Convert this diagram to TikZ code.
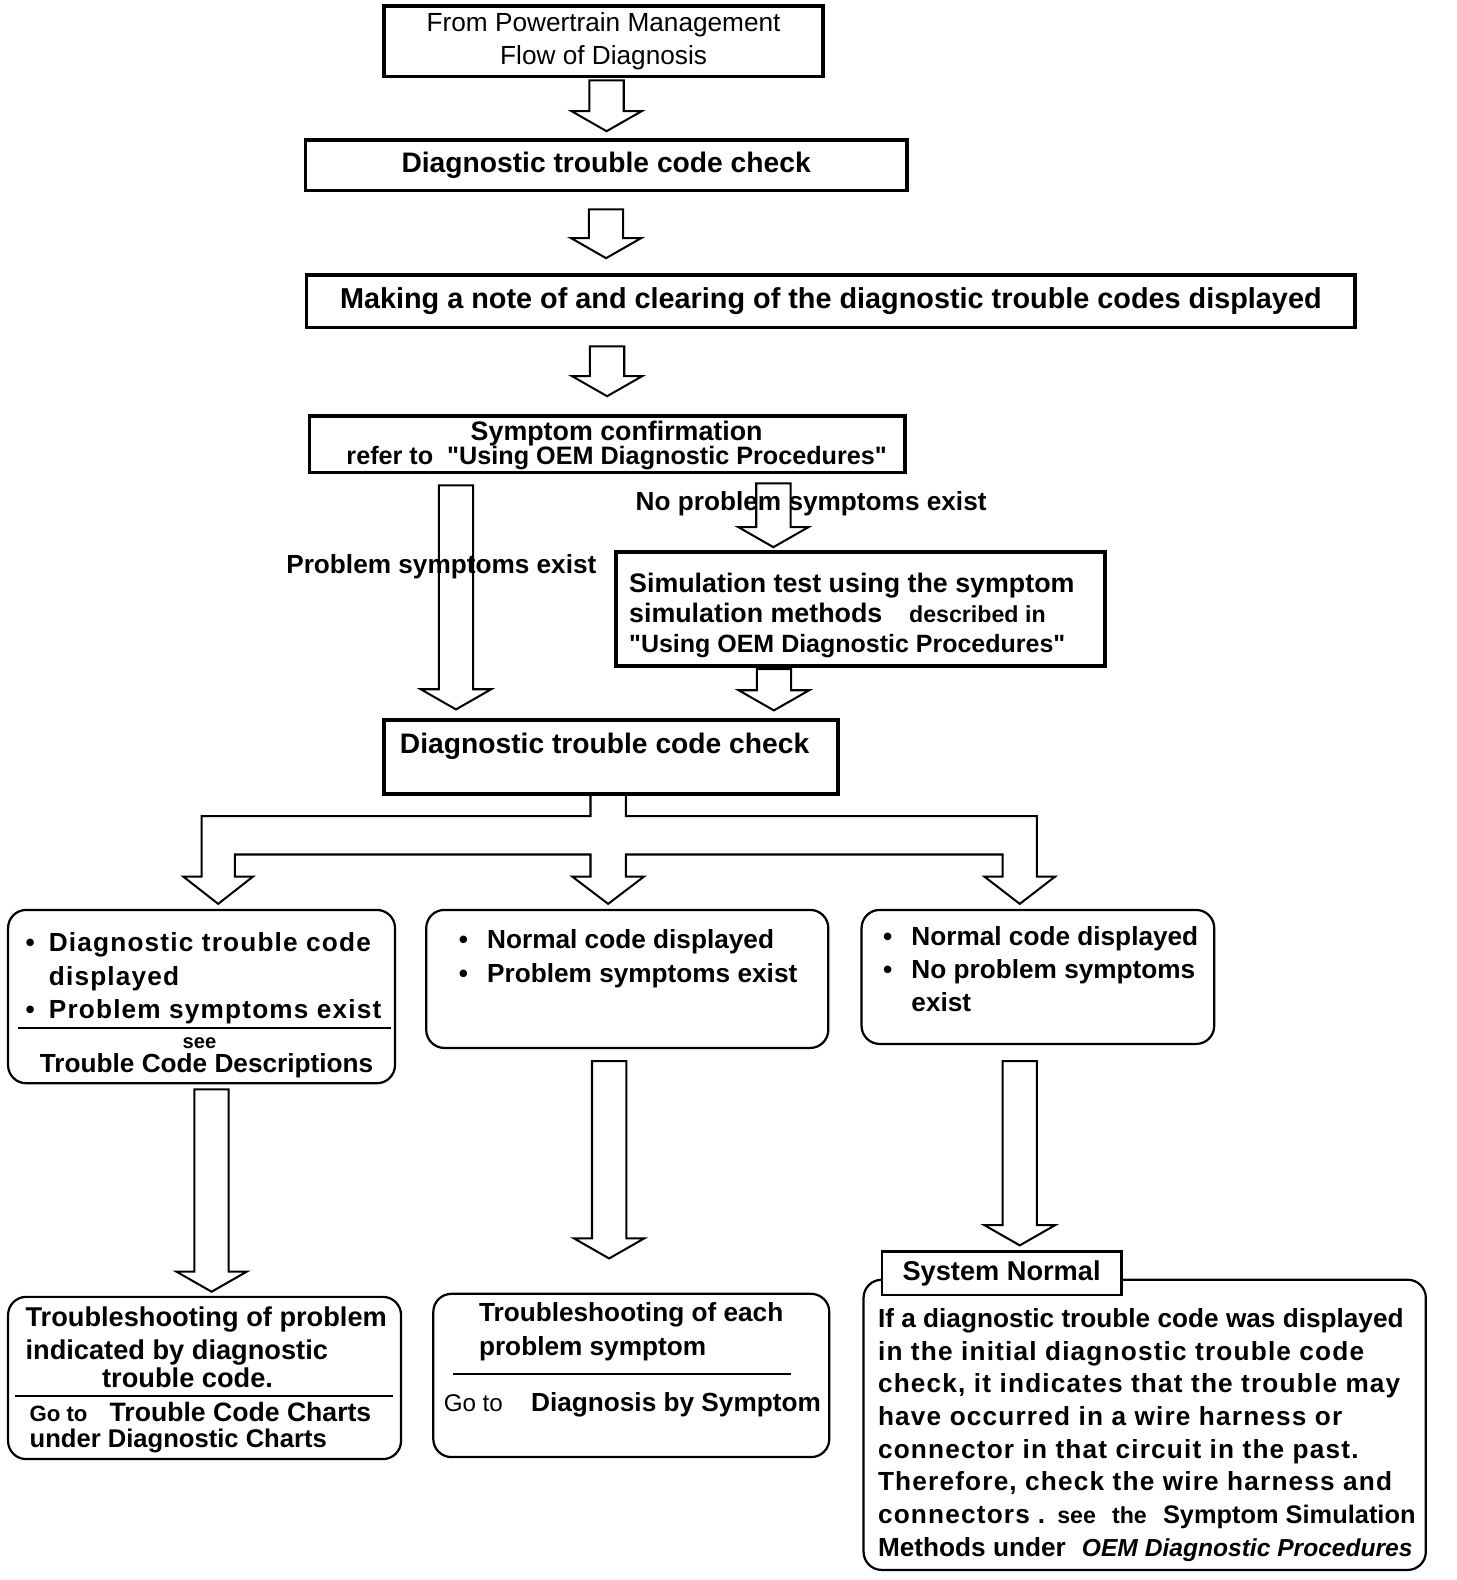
\documentclass[tikz,border=0pt]{standalone}
\usepackage{fontspec}
\setmainfont{Liberation Sans}
\usetikzlibrary{calc}

\newcommand{\fsz}[2]{\fontsize{#1}{#2}\selectfont}
\newcommand{\dq}{\textquotedbl}
\newcommand{\wide}{\addfontfeature{LetterSpace=4.5}}

% hollow block arrow, straight down from the x of #1 to the tip at the y of #2
\newcommand{\blockarrow}[2]{%
  \draw[hollow] let \p1=#1, \p2=#2 in
    (\x1-8.5pt,\y1) -- (\x1-8.5pt,\y2+10pt) -- (\x1-17.5pt,\y2+10pt) -- (\x1,\y2)
    -- (\x1+17.5pt,\y2+10pt) -- (\x1+8.5pt,\y2+10pt) -- (\x1+8.5pt,\y1) -- cycle;}

\begin{document}
\begin{tikzpicture}[x=0.5pt, y=-0.5pt,
  sqbox/.style={draw, line width=1.8pt, inner sep=0pt},
  rbox/.style={draw, line width=1.1pt, rounded corners=9pt, inner sep=0pt},
  hollow/.style={line width=1pt, line join=miter},
  divider/.style={line width=1pt},
  txt/.style={inner sep=0pt, font=\bfseries\fsz{13}{16.5}},
  lbl/.style={inner sep=0pt, font=\bfseries\fsz{13}{15}}]
\useasboundingbox (0,0) rectangle (1445,1568);

% main chain
\node[sqbox, minimum width=218pt, minimum height=35pt, align=center, font=\fsz{13}{16.5}] (from) at (599,41) {From Powertrain Management\\Flow of Diagnosis};
\node[sqbox, minimum width=298.5pt, minimum height=25pt, font=\bfseries\fsz{14}{16}] (dtcA) at (601.5,164) {Diagnostic trouble code check};
\node[sqbox, minimum width=520.5pt, minimum height=26pt, font=\bfseries\fsz{14.3}{16}] (note) at (824.5,299) {Making a note of and clearing of the diagnostic trouble codes displayed};
\node[sqbox, minimum width=295.5pt, minimum height=28pt] (sympt) at (602.5,441) {};
\node[txt, align=center, font=\bfseries\fsz{13.3}{12}] (symptxt) at (612,442) {Symptom confirmation\\{\fsz{12.5}{12}refer to\ \ \dq Using OEM Diagnostic Procedures\dq}};
\node[sqbox, line width=2pt, minimum width=243pt, minimum height=56.5pt] (simul) at (854,604.5) {};
\node[txt, anchor=west, align=left, font=\bfseries\fsz{13.3}{15}] (simtxt) at (624,611) {Simulation test using the symptom\\simulation methods\quad{\fsz{11.5}{15}described in}\\{\fsz{12.4}{15}\dq Using OEM Diagnostic Procedures\dq}};
\node[sqbox, line width=2pt, minimum width=225.5pt, minimum height=36.5pt] (dtcB) at (606.5,751.5) {};
\node[txt, font=\bfseries\fsz{14}{16}] (dtcBtxt) at (600,741) {Diagnostic trouble code check};

\node[lbl] (nops) at (805,500) {No problem symptoms exist};
\node[lbl] (ps) at (438,562) {Problem symptoms exist};

% three results
\node[rbox, minimum width=192pt, minimum height=86pt] (dtcyes) at (200,989) {};
\node[txt, anchor=west, font=\bfseries\fsz{13}{16.5}\wide] (dtcyestxt) at (25,971) {\begin{tabular}{@{}l@{\hspace{7pt}}l@{}}\textbullet & Diagnostic trouble code\\ & displayed\\ \textbullet & Problem symptoms exist\end{tabular}};
\draw[divider] (18,1020) -- (388,1020);
\node[txt, font=\bfseries\fsz{10}{11}] (see) at (198,1035) {see};
\node[txt] (tcd) at (205,1058) {Trouble Code Descriptions};

\node[rbox, minimum width=199.5pt, minimum height=68.5pt] (normps) at (622.5,971.5) {};
\node[txt, anchor=west] (normpstxt) at (455,951.5) {\begin{tabular}{@{}l@{\hspace{9.5pt}}l@{}}\textbullet & Normal code displayed\\ \textbullet & Problem symptoms exist\end{tabular}};

\node[rbox, minimum width=175pt, minimum height=66.5pt] (normok) at (1030,969.5) {};
\node[txt, anchor=west] (normoktxt) at (876,964.5) {\begin{tabular}{@{}l@{\hspace{9.5pt}}l@{}}\textbullet & Normal code displayed\\ \textbullet & No problem symptoms\\ & exist\end{tabular}};

% where to go next
\node[rbox, minimum width=195pt, minimum height=80.5pt] (tshoot) at (203,1367.5) {};
\node[txt, anchor=west, align=left, font=\bfseries\fsz{13.5}{16.5}] (tshoottxt) at (25,1337) {Troubleshooting of problem\\indicated by diagnostic\\[-3pt]\hspace*{38pt}trouble code.};
\draw[divider] (15,1385) -- (390,1385);
\node[txt, anchor=west, align=left, font=\bfseries\fsz{12.7}{13}] (gocharts) at (29,1417) {{\fsz{11}{13}Go to}\hspace{11pt}{\fsz{13.2}{13}Trouble Code Charts}\\ under Diagnostic Charts};

\node[rbox, minimum width=196.5pt, minimum height=81pt] (bysymp) at (626.5,1365) {};
\node[txt, anchor=west, align=left] (bysymptxt) at (475,1321.5) {Troubleshooting of each\\problem symptom};
\draw[divider] (450,1364) -- (785,1364);
\node[txt, anchor=west] (gosymp) at (440,1394) {{\mdseries\fsz{12}{15}Go to}\hspace{14pt}Diagnosis by Symptom};

\node[rbox, minimum width=279pt, minimum height=144pt] (sysnorm) at (1136,1414) {};
\node[draw, line width=1.1pt, fill=white, minimum width=119pt, minimum height=21.5pt, inner sep=0pt, font=\bfseries\fsz{13.5}{15}] (sntab) at (994,1263.5) {System Normal};
\node[txt, anchor=west, align=left, font=\bfseries\fsz{13}{16.2}] (sntxt) at (871,1424) {If a diagnostic trouble code was displayed\\{\wide in the initial diagnostic trouble code}\\{\wide check, it indicates that the trouble may}\\{\wide have occurred in a wire harness or}\\{\wide connector in that circuit in the past.}\\{\wide Therefore, check the wire harness and}\\{\wide connectors}\hspace{4pt}.\hspace{6pt}{\fsz{11.5}{16.2}see\hspace{8pt}the}\hspace{8pt}{\fsz{12.6}{16.2}Symptom Simulation}\\Methods under\hspace{8pt}{\fsz{12.2}{16.2}\itshape OEM Diagnostic Procedures}};

% block arrows
\blockarrow{($(from.south)+(3,2)$)}{($(dtcA.north)+(0,-7)$)}
\blockarrow{($(dtcA.south)+(0,17)$)}{($(note.north)+(0,-15)$)}
\blockarrow{($(note.south)+(-222,17)$)}{($(sympt.north)+(0,-18)$)}
\blockarrow{($(sympt.south)+(-150,11)$)}{($(dtcB.north)+(0,-9)$)}
\blockarrow{($(sympt.south)+(165,9)$)}{($(simul.north)+(0,-3)$)}
\blockarrow{($(simul.south)+(-86,1)$)}{($(dtcB.north)+(0,-8)$)}
\blockarrow{($(dtcyes.south)+(10,5)$)}{($(tshoot.north)+(0,-4)$)}
\blockarrow{($(normps.south)+(-18,12)$)}{($(bysymp.north)+(0,-34)$)}
\blockarrow{($(normok.south)+(-18,16)$)}{($(sntab.north)+(0,-5)$)}

% three-way split under the second check
\draw[hollow] ($(dtcB.south)+(-20.5,0)$) -- ++(0,20) -- ++(-386,0) -- ++(0,60)
  -- ++(-18,0) -- ++(34.5,27) -- ++(34.5,-27) -- ++(-18,0) -- ++(0,-22)
  -- ++(353,0) -- ++(0,22) -- ++(-18,0) -- ++(35.5,27) -- ++(35.5,-27)
  -- ++(-18,0) -- ++(0,-22) -- ++(374,0) -- ++(0,22) -- ++(-18,0)
  -- ++(35,27) -- ++(35,-27) -- ++(-18,0) -- ++(0,-60) -- ++(-408,0) -- ++(0,-20);
\end{tikzpicture}
\end{document}
